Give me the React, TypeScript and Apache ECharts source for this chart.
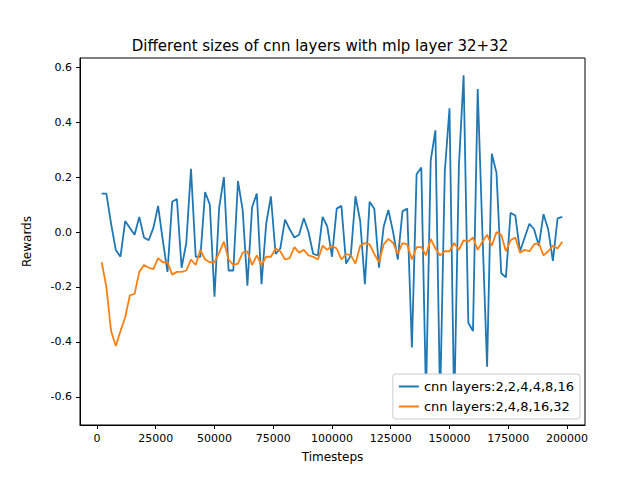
import React, { useEffect, useRef } from "react";
import * as echarts from "echarts";

const steps: number[] = [];
for (let s = 2000; s <= 198000; s += 2000) steps.push(s);

const cnnSmall = [
  0.14, 0.14, 0.03, -0.065, -0.09, 0.04, 0.015, -0.01, 0.055, -0.02,
  -0.03, 0.015, 0.095, -0.03, -0.145, 0.11, 0.12, -0.13, -0.04, 0.23,
  -0.09, -0.09, 0.145, 0.1, -0.235, 0.09, 0.2, -0.14, -0.14, 0.185,
  0.08, -0.195, 0.09, 0.14, -0.19, 0.03, 0.13, -0.08, -0.06, 0.045,
  0.01, -0.02, -0.01, 0.05, 0.0, -0.08, -0.085, 0.055, 0.02, -0.09,
  0.085, 0.095, -0.115, -0.085, 0.13, 0.04, -0.19, 0.11, 0.085, -0.13,
  0.02, 0.08, 0.0, -0.1, 0.075, 0.085, -0.42, 0.21, 0.235, -0.6,
  0.26, 0.37, -0.62, 0.22, 0.45, -0.65, 0.24, 0.57, -0.33, -0.36,
  0.52, 0.0, -0.49, 0.285, 0.215, -0.15, -0.165, 0.07, 0.06, -0.07,
  -0.02, 0.03, 0.01, -0.05, 0.065, 0.01, -0.105, 0.05, 0.055,
];

const cnnLarge = [
  -0.11, -0.2, -0.36, -0.415, -0.36, -0.31, -0.23, -0.225, -0.145, -0.12,
  -0.13, -0.135, -0.095, -0.11, -0.11, -0.155, -0.145, -0.145, -0.14, -0.1,
  -0.12, -0.065, -0.1, -0.11, -0.11, -0.075, -0.035, -0.1, -0.12, -0.115,
  -0.075, -0.07, -0.12, -0.085, -0.12, -0.09, -0.09, -0.06, -0.07, -0.1,
  -0.095, -0.055, -0.075, -0.065, -0.085, -0.09, -0.1, -0.05, -0.065, -0.05,
  -0.06, -0.1, -0.08, -0.085, -0.115, -0.05, -0.04, -0.045, -0.08, -0.11,
  -0.045, -0.025, -0.04, -0.08, -0.04, -0.045, -0.1, -0.055, -0.055, -0.085,
  -0.025, -0.06, -0.085, -0.07, -0.07, -0.04, -0.065, -0.03, -0.035, -0.02,
  -0.065, -0.035, -0.01, -0.05, 0.0, -0.01, -0.07, -0.03, -0.02, -0.075,
  -0.065, -0.07, -0.045, -0.04, -0.085, -0.07, -0.05, -0.06, -0.035,
];

const xTicks = [0, 25000, 50000, 75000, 100000, 125000, 150000, 175000, 200000];
const yTicks = [-0.6, -0.4, -0.2, 0, 0.2, 0.4, 0.6];

export default function App() {
  const ref = useRef<HTMLDivElement | null>(null);

  useEffect(() => {
    document.body.style.margin = "0";
    if (!ref.current) return;
    const chart = echarts.init(ref.current, undefined, { renderer: "svg" });
    const font = "DejaVu Sans";
    chart.setOption({
      animation: false,
      textStyle: { fontFamily: font },
      title: {
        text: "Different sizes of cnn layers with mlp layer 32+32",
        left: "center",
        top: 33,
        textStyle: { fontSize: 15, fontWeight: "normal", color: "#000", fontFamily: font },
      },
      grid: {
        left: 80, right: 55, top: 58, bottom: 55,
        show: true, borderColor: "#000", borderWidth: 1,
      },
      legend: {
        orient: "vertical",
        right: 60, bottom: 61,
        backgroundColor: "#fff",
        borderColor: "#ccc", borderWidth: 1, borderRadius: 3,
        padding: [6, 6], itemGap: 7, itemWidth: 20, itemHeight: 2,
        textStyle: { fontSize: 13, color: "#000", fontFamily: font },
        data: [
          { name: "cnn layers:2,2,4,4,8,16", icon: "rect" },
          { name: "cnn layers:2,4,8,16,32", icon: "rect" },
        ],
      },
      xAxis: {
        type: "value", min: -7230, max: 207660,
        name: "Timesteps", nameLocation: "middle", nameGap: 26,
        nameTextStyle: { fontSize: 12, color: "#000", fontFamily: font },
        axisLine: { onZero: false, lineStyle: { color: "#000" } },
        axisTick: { customValues: xTicks, length: 4, lineStyle: { color: "#000" } },
        axisLabel: {
          customValues: xTicks, color: "#000", fontSize: 11, fontFamily: font,
          formatter: (v: number) => String(v),
        },
        splitLine: { show: false },
      },
      yAxis: {
        type: "value", min: -0.702, max: 0.633,
        name: "Rewards", nameLocation: "middle", nameGap: 47,
        nameTextStyle: { fontSize: 12, color: "#000", fontFamily: font },
        axisLine: { show: true, onZero: false, lineStyle: { color: "#000" } },
        axisTick: { show: true, customValues: yTicks, length: 4, lineStyle: { color: "#000" } },
        axisLabel: {
          customValues: yTicks, color: "#000", fontSize: 11, fontFamily: font,
          formatter: (v: number) => v.toFixed(1),
        },
        splitLine: { show: false },
      },
      series: [
        {
          name: "cnn layers:2,2,4,4,8,16", type: "line", showSymbol: false,
          color: "#1f77b4", lineStyle: { width: 1.8 },
          data: steps.map((s, i) => [s, cnnSmall[i]]),
        },
        {
          name: "cnn layers:2,4,8,16,32", type: "line", showSymbol: false,
          color: "#ff7f0e", lineStyle: { width: 1.8 },
          data: steps.map((s, i) => [s, cnnLarge[i]]),
        },
      ],
    });
    return () => chart.dispose();
  }, []);

  return <div ref={ref} style={{ width: 640, height: 480 }} />;
}
